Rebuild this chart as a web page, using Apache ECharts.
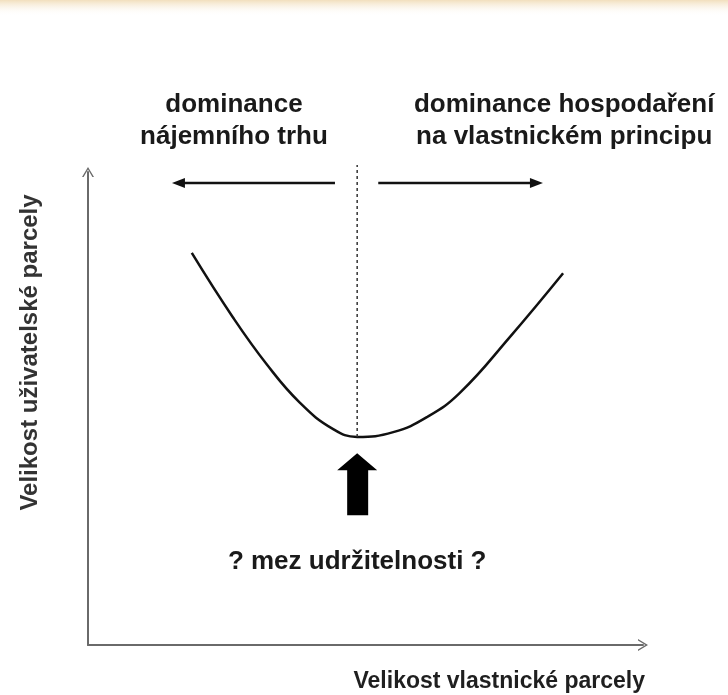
<!DOCTYPE html>
<html>
<head>
<meta charset="utf-8">
<script src="https://cdn.jsdelivr.net/npm/echarts@6/dist/echarts.min.js"></script>
<style>
  html, body { margin: 0; padding: 0; background: #fff; }
  #chart { width: 728px; height: 695px; }
</style>
</head>
<body>
<div id="chart"></div>
<script>
// axes run 0..100 on both sides
const curveX = [18.7, 26.1, 32.3, 38.2, 44.1, 48.5, 55.0, 61.1, 67.0, 76.0, 85.6]
const curveY = [82.9, 69.3, 59.2, 51.2, 45.7, 44.0, 45.0, 48.2, 53.3, 65.1, 78.6]

// dashed divider at the minimum
const dividerX = [48.5, 48.5]
const dividerY = [44.0, 101.5]

// the two horizontal arrows (start, head)
const leftArrowX = [44.5, 16.3]
const rightArrowX = [52.3, 80.8]
const arrowY = 97.7

// the thick arrow under the minimum
const pointerX = [48.5]
const pointerY = [34.0]

// annotations
const noteText = ['dominance\nnájemního trhu', 'dominance hospodaření\nna vlastnickém principu', '? mez udržitelnosti ?']
const noteX = [26.3, 85.8, 48.5]
const noteY = [110.8, 110.8, 17.5]

const xName = 'Velikost vlastnické parcely'
const yName = 'Velikost uživatelské parcely'

const FONT = "'Liberation Sans', Arial, sans-serif"
const chevron = 'path://M0,10 L6,0 L12,10 L10.4,10 L6,2.6 L1.6,10 Z'
const blockArrow = 'path://M20,0 L40,17 L31,17 L31,62 L10,62 L10,17 L0,17 Z'

const zip = (xs, ys) => xs.map((x, i) => [x, ys[i]])

const arrowData = (xs) => [
  { value: [xs[0], arrowY], symbol: 'none' },
  { value: [xs[1], arrowY], symbol: 'triangle', symbolSize: [10, 13], symbolRotate: xs[1] < xs[0] ? 90 : -90 }
]

const getChartOption = () => {
  const axisLine = {
    show: true,
    symbol: ['none', chevron],
    symbolSize: [13, 10],
    lineStyle: { color: '#6a6a6a', width: 2 }
  }
  return {
    backgroundColor: '#fff',
    animation: false,
    graphic: [
      {
        // faded beige strip along the top edge
        type: 'rect',
        left: 0,
        top: 0,
        shape: { width: 728, height: 16 },
        style: {
          fill: new echarts.graphic.LinearGradient(0, 0, 0, 1, [
            { offset: 0, color: '#f2dfbd' },
            { offset: 1, color: 'rgba(255,255,255,0)' }
          ])
        },
        silent: true
      }
    ],
    grid: { left: 88, right: 85, top: 172, bottom: 50 },
    xAxis: {
      type: 'value',
      min: 0,
      max: 100,
      name: xName,
      nameLocation: 'end',
      nameGap: 2,
      nameTextStyle: {
        fontFamily: FONT,
        fontSize: 23,
        fontWeight: 'bold',
        color: '#1f1f1f',
        align: 'right',
        verticalAlign: 'top',
        padding: [25, 0, 0, 0]
      },
      axisLine,
      axisTick: { show: false },
      axisLabel: { show: false },
      splitLine: { show: false }
    },
    yAxis: {
      type: 'value',
      min: 0,
      max: 100,
      name: yName,
      nameLocation: 'middle',
      nameGap: 46,
      nameRotate: 90,
      nameTextStyle: {
        fontFamily: FONT,
        fontSize: 24,
        fontWeight: 'bold',
        color: '#333',
        padding: [0, 0, 0, 112]
      },
      axisLine,
      axisTick: { show: false },
      axisLabel: { show: false },
      splitLine: { show: false }
    },
    series: [
      {
        name: 'curve',
        type: 'line',
        data: zip(curveX, curveY),
        smooth: 0.45,
        showSymbol: false,
        clip: false,
        lineStyle: { color: '#111', width: 2.5 }
      },
      {
        name: 'divider',
        type: 'line',
        data: zip(dividerX, dividerY),
        showSymbol: false,
        clip: false,
        lineStyle: { color: '#333', width: 1.5, type: [3, 3] }
      },
      {
        name: 'left',
        type: 'line',
        data: arrowData(leftArrowX),
        clip: false,
        itemStyle: { color: '#111', opacity: 1 },
        lineStyle: { color: '#111', width: 2.5 }
      },
      {
        name: 'right',
        type: 'line',
        data: arrowData(rightArrowX),
        clip: false,
        itemStyle: { color: '#111', opacity: 1 },
        lineStyle: { color: '#111', width: 2.5 }
      },
      {
        name: 'pointer',
        type: 'scatter',
        data: zip(pointerX, pointerY),
        symbol: blockArrow,
        symbolSize: [40, 62],
        clip: false,
        itemStyle: { color: '#000', opacity: 1 }
      },
      {
        name: 'notes',
        type: 'scatter',
        data: noteText.map((t, i) => ({ name: t, value: [noteX[i], noteY[i]] })),
        symbolSize: 0,
        clip: false,
        itemStyle: { opacity: 1 },
        label: {
          show: true,
          position: 'inside',
          formatter: (p) => p.name,
          fontFamily: FONT,
          fontSize: 26,
          fontWeight: 'bold',
          lineHeight: 32,
          align: 'center',
          color: '#1a1a1a'
        }
      }
    ]
  }
}

const chart = echarts.init(document.getElementById('chart'))
chart.setOption(getChartOption())
</script>
</body>
</html>
